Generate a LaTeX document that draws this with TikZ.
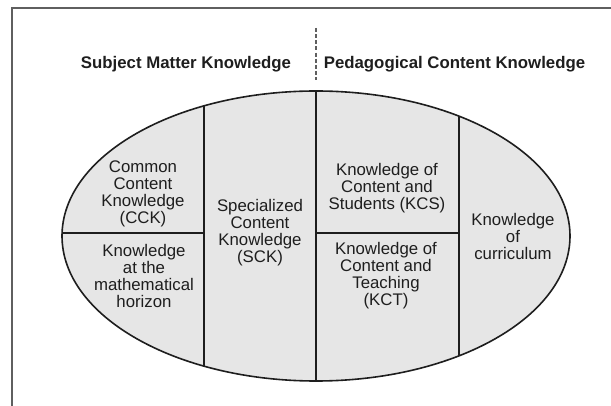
\documentclass[tikz,border=0pt]{standalone}
\usepackage{fontspec}
\setmainfont{Liberation Sans}
\usetikzlibrary{positioning}
\definecolor{framegray}{RGB}{95,95,95}
\definecolor{regiongray}{RGB}{230,230,230}
\definecolor{inkblack}{RGB}{30,30,30}

\tikzset{
  areatext/.style={align=center, text=inkblack, inner sep=0pt,
    font=\fontsize{12.6}{12.75}\selectfont},
  headtext/.style={text=inkblack, inner sep=0pt,
    font=\bfseries\fontsize{12.6}{15}\selectfont},
  divider/.style={inkblack, line width=1.2pt},
}

\begin{document}
\begin{tikzpicture}[x=0.75pt, y=-0.75pt]
  \useasboundingbox (0,0) rectangle (611,406);
  % outer frame
  \draw[framegray, line width=1pt] (611,8) -- (12,8) -- (12,406);
  % split between the two domains
  \draw[framegray, dash pattern=on 3pt off 1.6pt, line width=0.8pt] (316,28) -- (316,80);
  \node[headtext] (smk) at (186,64) {Subject Matter Knowledge};
  \node[headtext] (pck) at (454.5,64) {Pedagogical Content Knowledge};
  % the egg and its parts
  \fill[regiongray] (316,236) ellipse [x radius=254, y radius=145];
  \begin{scope}
    \clip (316,236) ellipse [x radius=254, y radius=145];
    \draw[divider] (204,80) -- (204,400);
    \draw[divider] (316,80) -- (316,400);
    \draw[divider] (459,80) -- (459,400);
    \draw[divider] (40,233) -- (204,233);
    \draw[divider] (316,233) -- (459,233);
  \end{scope}
  \draw[divider] (316,236) ellipse [x radius=254, y radius=145];
  % labels
  \node[areatext] (cck) at (143,194) {Common\\Content\\Knowledge\\(CCK)};
  \node[areatext] (hck) at (144,276) {Knowledge\\at the\\mathematical\\horizon};
  \node[areatext] (sck) at (260,233) {Specialized\\Content\\Knowledge\\(SCK)};
  \node[areatext] (kcs) at (387,188) {Knowledge of\\Content and\\Students (KCS)};
  \node[areatext] (kct) at (386,276) {Knowledge of\\Content and\\Teaching\\(KCT)};
  \node[areatext] (kcc) at (513,236) {Knowledge\\of\\curriculum};
\end{tikzpicture}
\end{document}
